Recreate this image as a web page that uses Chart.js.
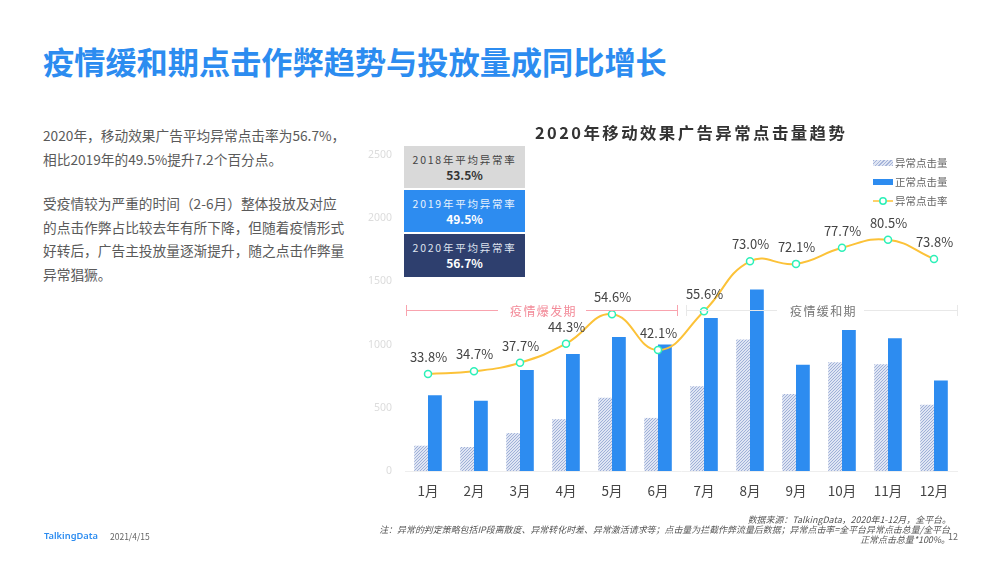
<!DOCTYPE html>
<html lang="zh"><head><meta charset="utf-8">
<script src="https://cdn.jsdelivr.net/npm/chart.js@4"></script>
<style>
html,body{margin:0;padding:0;background:#fff;width:1000px;height:563px;overflow:hidden}
body{font-family:"Noto Sans CJK SC","Noto Sans",sans-serif;position:relative}
.a{position:absolute;white-space:nowrap}
canvas#c{position:absolute;left:0;top:0}
.box{position:absolute;left:404px;width:121px;text-align:center;font-size:10.5px;line-height:15px;letter-spacing:1.75px;padding-top:6px;box-sizing:border-box}
.box b{display:block;font-size:12px;letter-spacing:0;line-height:15px}
.rule{position:absolute;height:1px}
.cap{position:absolute;width:1px;height:11px}
.leg{position:absolute;left:873px;font-size:10.5px;color:#666;line-height:14px;white-space:nowrap}
.sw{position:absolute;left:0;top:4px;width:20px;height:6px}
.leg span.t{position:absolute;left:22px;top:0}
</style></head><body>
<div class="a" style="left:43px;top:38px;font-size:31.2px;line-height:46px;font-weight:700;color:#2c8cf0">疫情缓和期点击作弊趋势与投放量成同比增长</div>
<div class="a" style="left:43px;top:124px;font-size:13.7px;line-height:23.6px;color:#5a5a5a">2020年，移动效果广告平均异常点击率为56.7%，<br>相比2019年的49.5%提升7.2个百分点。<br><span style="display:block;height:21px"></span>受疫情较为严重的时间（2-6月）整体投放及对应<br>的点击作弊占比较去年有所下降，但随着疫情形式<br>好转后，广告主投放量逐渐提升，随之点击作弊量<br>异常猖獗。</div>
<canvas id="c" width="1000" height="563"></canvas>
<div class="a" style="left:535px;top:120px;font-size:16.4px;line-height:24px;font-weight:700;letter-spacing:2.45px;color:#333">2020年移动效果广告异常点击量趋势</div>
<div class="box" style="top:146px;height:42px;background:#d9d9d9;color:#444">2018年平均异常率<b style="color:#333">53.5%</b></div>
<div class="box" style="top:190px;height:42px;background:#2d8cf0;color:#e8f2fd">2019年平均异常率<b style="color:#fff">49.5%</b></div>
<div class="box" style="top:234px;height:43px;background:#2e3f6e;color:#dfe3ee">2020年平均异常率<b style="color:#fff">56.7%</b></div>
<div class="rule" style="left:406px;top:310px;width:92px;background:#f9a3ae"></div>
<div class="rule" style="left:586px;top:310px;width:91px;background:#f9a3ae"></div>
<div class="cap" style="left:406px;top:305px;background:#f9a3ae"></div>
<div class="cap" style="left:677px;top:305px;background:#f9a3ae"></div>
<div class="a" style="left:510px;top:301px;font-size:12px;line-height:20px;letter-spacing:1.4px;color:#f38a98">疫情爆发期</div>
<div class="rule" style="left:686px;top:310px;width:91px;background:#e8e8e8"></div>
<div class="rule" style="left:864px;top:310px;width:93px;background:#e8e8e8"></div>
<div class="cap" style="left:686px;top:305px;background:#e8e8e8"></div>
<div class="cap" style="left:957px;top:305px;background:#e8e8e8"></div>
<div class="a" style="left:790px;top:301px;font-size:12px;line-height:20px;letter-spacing:1.4px;color:#777">疫情缓和期</div>
<div id="legend"></div>
<div class="a" style="right:49px;top:514px;font-size:8.95px;line-height:11px;font-style:italic;color:#555;text-align:right">数据来源：TalkingData，2020年1-12月，全平台。</div>
<div class="a" style="right:50px;top:523.5px;font-size:8.95px;line-height:11px;font-style:italic;color:#555;text-align:right">注：异常的判定策略包括IP段离散度、异常转化时差、异常激活请求等；点击量为拦截作弊流量后数据；异常点击率=全平台异常点击总量/全平台</div>
<div class="a" style="right:50px;top:534px;font-size:8.95px;line-height:11px;font-style:italic;color:#555;text-align:right">正常点击总量*100%。</div>
<div class="a" style="left:948px;top:530px;font-size:9px;line-height:13px;color:#666">12</div>
<div class="a" style="left:44px;top:528px;font-size:9.3px;line-height:15px;font-weight:600;color:#2c8cf0;font-family:'Noto Sans',sans-serif">TalkingData</div>
<div class="a" style="left:110px;top:530px;font-size:8.5px;line-height:13px;color:#666">2021/4/15</div>
<script>
const months = ['1月','2月','3月','4月','5月','6月','7月','8月','9月','10月','11月','12月'];
const abnormalClicks = [200,190,300,410,580,420,670,1040,610,860,845,525];
const normalClicks = [600,555,800,925,1060,1000,1210,1435,840,1115,1050,715];
const abnormalRate = [33.8,34.7,37.7,44.3,54.6,42.1,55.6,73.0,72.1,77.7,80.5,73.8];
const yTicks = [0,500,1000,1500,2000,2500];
const seriesNames = ['异常点击量','正常点击量','异常点击率'];

function hatch(){
  const p=document.createElement('canvas');p.width=3;p.height=3;
  const g=p.getContext('2d');
  g.fillStyle='#dfe5f3';g.fillRect(0,0,3,3);
  g.fillStyle='#9fb0d8';
  g.fillRect(2,0,1,1);g.fillRect(1,1,1,1);g.fillRect(0,2,1,1);
  return g.createPattern(p,'repeat');
}
const labelPlugin={id:'rateLabels',afterDatasetsDraw(chart){
  const m=chart.getDatasetMeta(2),c=chart.ctx;
  c.save();c.font='13px "Noto Sans CJK SC"';c.fillStyle='#444';c.textAlign='center';c.textBaseline='middle';
  m.data.forEach((pt,i)=>c.fillText(abnormalRate[i].toFixed(1)+'%',pt.x+0.5,pt.y-17));
  c.restore();
}};
new Chart(document.getElementById('c'),{
  type:'bar',
  data:{labels:months,datasets:[
    {label:seriesNames[0],data:abnormalClicks,backgroundColor:hatch(),order:1,categoryPercentage:0.6,barPercentage:1},
    {label:seriesNames[1],data:normalClicks,backgroundColor:'#2d8cf0',order:1,categoryPercentage:0.6,barPercentage:1},
    {type:'line',label:seriesNames[2],data:abnormalRate,yAxisID:'y1',order:0,borderColor:'#fcc238',borderWidth:2,tension:0.45,
     pointRadius:3.5,pointBackgroundColor:'#fff',pointBorderColor:'#2cf0b8',pointBorderWidth:1.5,clip:false}
  ]},
  options:{responsive:false,animation:false,devicePixelRatio:1,
    layout:{padding:{left:0,right:43,top:155,bottom:0}},
    plugins:{legend:{display:false},title:{display:false},tooltip:{enabled:false}},
    scales:{
      x:{grid:{display:false,drawTicks:false},border:{color:'#eeeeee'},ticks:{padding:12,color:'#444',font:{size:13.5,family:'"Noto Sans CJK SC"'},maxRotation:0},
         afterFit(s){s.height=92}},
      y:{min:0,max:2500,afterBuildTicks(s){s.ticks=yTicks.map(v=>({value:v}))},grid:{display:false,drawTicks:false},border:{display:false},
         ticks:{padding:13,color:'#dcdcdc',font:{size:10.5,family:'"Noto Sans"'},callback:v=>String(v)},afterFit(s){s.width=405}},
      y1:{display:false,min:0,max:110}
    }},
  plugins:[labelPlugin]
});
const legendEl=document.getElementById('legend');
const swatches=[
 '<div class="sw" style="background:repeating-linear-gradient(135deg,#a5b4da 0 1px,#dfe5f3 1px 2.5px)"></div>',
 '<div class="sw" style="background:#2d8cf0"></div>',
 '<svg style="position:absolute;left:0;top:0" width="20" height="14"><line x1="0" y1="7" x2="20" y2="7" stroke="#fcc238" stroke-width="1.5"/><circle cx="10" cy="7" r="3.2" fill="#fff" stroke="#2cf0b8" stroke-width="1.5"/></svg>'
];
seriesNames.forEach((n,i)=>{const d=document.createElement('div');d.className='leg';d.style.top=(156+i*19.2)+'px';d.style.width='80px';d.style.height='14px';d.innerHTML=swatches[i]+'<span class="t">'+n+'</span>';legendEl.appendChild(d);});
</script>
</body></html>
